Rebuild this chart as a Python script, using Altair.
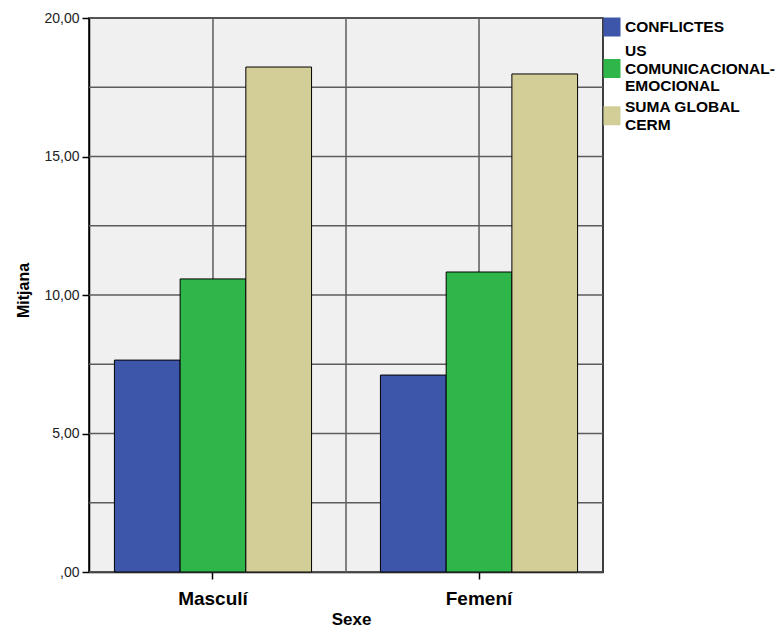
import altair as alt
import pandas as pd

sexes = ["Masculí", "Femení"]
series = ["CONFLICTES", "US COMUNICACIONAL-EMOCIONAL", "SUMA GLOBAL CERM"]
legend_lines = [["CONFLICTES"], ["US", "COMUNICACIONAL-", "EMOCIONAL"], ["SUMA GLOBAL", "CERM"]]
masculi = [7.65, 10.58, 18.23]
femeni = [7.11, 10.83, 17.98]
colors = ["#3d56a9", "#2fb64a", "#d3ce98"]
y_ticks = [0, 5, 10, 15, 20]
y_grid = [0, 2.5, 5, 7.5, 10, 12.5, 15, 17.5, 20]

rows = []
for s, vals in zip(sexes, [masculi, femeni]):
    for name, v in zip(series, vals):
        rows.append({"Sexe": s, "Serie": name, "Mitjana": v})
df = pd.DataFrame(rows)
df_hgrid = pd.DataFrame({"g": y_grid})
df_vgrid = pd.DataFrame({"Sexe": sexes})
df_mid = pd.DataFrame({"Sexe": sexes[:1]})

FONT = "Liberation Sans"
GRID = "#5c5c5c"
W, H = 514, 554
P_IN = 0.259
P_OUT = 0.0955
STEP = W / (len(sexes) - P_IN + 2 * P_OUT)

xs = alt.Scale(domain=sexes, paddingInner=P_IN, paddingOuter=P_OUT)
ys = alt.Scale(domain=[0, 20], nice=False, zero=True)

# legend label expression with line breaks
parts = []
for name, lines in zip(series, legend_lines):
    arr = "[" + ",".join("'" + l + "'" for l in lines) + "]"
    parts.append(f"datum.label == '{name}' ? {arr} : ")
legend_expr = "".join(parts) + "datum.label"

# legend swatches: square paths nudged down so they sit in the middle of multi-line labels
SYM = 17.0
R = SYM / 2
LINE = 17.5
def swatch(n_lines):
    shift = (n_lines - 1) * LINE / 2 / R
    h = 19.0 / 2 / R
    return f"M-1,{shift - h:.3f}H1V{shift + h:.3f}H-1Z"
swatches = [swatch(len(l)) for l in legend_lines]

def make_legend():
    return alt.Legend(
        title=None,
        orient="right",
        offset=0,
        padding=0,
        labelExpr=legend_expr,
        labelFont=FONT,
        labelFontSize=15.5,
        labelFontWeight="bold",
        labelColor="black",
        labelLimit=300,
        labelOffset=4,
        symbolSize=SYM * SYM,
        symbolStrokeColor="black",
        symbolStrokeWidth=1,
        symbolOpacity=1,
        rowPadding=3,
    )

hgrid = alt.Chart(df_hgrid).mark_rule(color=GRID, strokeWidth=1.5).encode(
    y=alt.Y("g:Q", scale=ys, axis=None)
)

vgrid = alt.Chart(df_vgrid).mark_rule(color=GRID, strokeWidth=1.5).encode(
    x=alt.X("Sexe:N", sort=sexes, scale=xs, bandPosition=0.5, axis=None)
)

# line midway between the two groups: end of first band + half the inner gap
vmid = alt.Chart(df_mid).mark_rule(color=GRID, strokeWidth=1.5, xOffset=STEP * P_IN / 2).encode(
    x=alt.X("Sexe:N", sort=sexes, scale=xs, bandPosition=1, axis=None)
)

bars = alt.Chart(df).mark_bar(stroke="black", strokeWidth=1).encode(
    x=alt.X(
        "Sexe:N",
        sort=sexes,
        scale=xs,
        axis=alt.Axis(
            title="Sexe",
            labelAngle=0,
            labelFont=FONT,
            labelFontSize=19,
            labelFontWeight="bold",
            labelColor="black",
            labelPadding=10,
            tickSize=7,
            tickColor="black",
            tickWidth=1.5,
            domainColor="black",
            domainWidth=1.5,
            titleFont=FONT,
            titleFontSize=17,
            titleFontWeight="bold",
            titleColor="black",
            titlePadding=3,
            titleX=W / 2 + 5,
            grid=False,
        ),
    ),
    xOffset=alt.XOffset("Serie:N", sort=series, scale=alt.Scale(domain=series, paddingInner=0, paddingOuter=0)),
    y=alt.Y(
        "Mitjana:Q",
        scale=ys,
        axis=alt.Axis(
            title="Mitjana",
            values=y_ticks,
            labelExpr="datum.value == 0 ? ',00' : replace(format(datum.value, '.2f'), '.', ',')",
            labelFont=FONT,
            labelFontSize=14,
            labelColor="#222222",
            labelPadding=3,
            tickSize=7,
            tickColor="black",
            tickWidth=1.5,
            domainColor="black",
            domainWidth=1.5,
            titleFont=FONT,
            titleFontSize=16,
            titleFontWeight="bold",
            titleColor="black",
            titlePadding=12,
            titleY=H / 2 - 5,
            grid=False,
        ),
    ),
    color=alt.Color(
        "Serie:N",
        sort=series,
        scale=alt.Scale(domain=series, range=colors),
        legend=make_legend(),
    ),
)

# carries only the legend swatch shapes; draws nothing
shape_layer = alt.Chart(df).transform_filter("false").mark_point(filled=True).encode(
    x=alt.X("Sexe:N", sort=sexes, scale=xs, axis=None),
    y=alt.Y("Mitjana:Q", scale=ys, axis=None),
    color=alt.Color("Serie:N", sort=series, scale=alt.Scale(domain=series, range=colors), legend=make_legend()),
    shape=alt.Shape("Serie:N", sort=series, scale=alt.Scale(domain=series, range=swatches), legend=make_legend()),
)

chart = alt.layer(hgrid, vgrid, vmid, bars, shape_layer).properties(
    width=W,
    height=H,
    autosize=alt.AutoSizeParams(type="none"),
    padding={"left": 81, "top": 10, "right": 173, "bottom": 55},
).resolve_axis(
    x="independent", y="independent"
).configure_view(
    fill="#f0f0f0", stroke="black", strokeWidth=1.5
)

chart.save("out.html", embed_options={"renderer": "svg", "actions": False})
